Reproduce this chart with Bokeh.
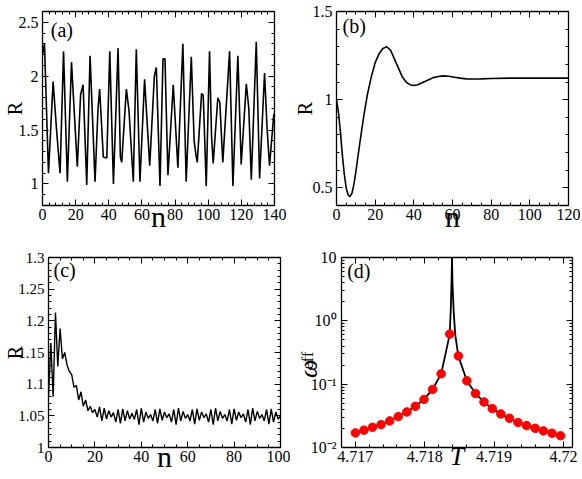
import math
import numpy as np
from bokeh.plotting import figure
from bokeh.layouts import column, row
from bokeh.models import (Range1d, SingleIntervalTicker, FixedTicker, LinearAxis, LogAxis,
                          Label, CustomJSTickFormatter)
from bokeh.embed import file_html
from bokeh.resources import INLINE

FONT = "'Liberation Serif', 'Times New Roman', serif"

# ---------------- data: panel (a) ----------------
a_n = [0, 1.2, 3.6, 6.4, 8.5, 10.6, 12.7, 15, 17.5, 21, 23, 24.5, 26.7, 28.7, 31.7, 33.5, 34.5,
       36.7, 38.8, 40.6, 42.8, 45.6, 47, 47.8, 50.6, 52.2, 54.8, 56.6, 58.8, 61.6, 64.7, 67.5,
       68.7, 70.9, 72.7, 73.9, 75.7, 78.9, 81.7, 84.7, 86.7, 89.8, 91.5, 92.5, 93.4, 96, 97,
       98.8, 100.8, 102, 103, 105.8, 107, 108.8, 112.9, 114.9, 117.9, 119.9, 123, 124.5, 126,
       129, 131, 134, 135.5, 137, 139.6]
a_R = [2.2, 2.3, 1.1, 1.95, 1.5, 1.1, 2.23, 1.02, 2.13, 1.16, 1.83, 1.92, 0.99, 2.19, 1.02, 1.7, 1.88,
       1.25, 1.24, 2.23, 1.0, 2.26, 1.25, 1.2, 1.88, 1.68, 1.02, 2.25, 1.02, 1.97, 1.17, 2.0,
       2.08, 0.98, 2.16, 2.16, 1.08, 1.92, 1.15, 2.3, 1.02, 2.18, 1.4, 1.28, 1.2, 1.84, 1.82,
       0.98, 2.23, 1.45, 1.19, 1.8, 1.76, 1.2, 2.23, 0.98, 2.19, 1.18, 1.93, 1.7, 1.04,
       2.32, 1.05, 2.03, 1.52, 1.17, 1.65]

# ---------------- data: panel (b) ----------------
b_n = [0, 1, 2, 3, 4, 5, 6, 7, 8, 9, 10, 12, 14, 16, 18, 20, 22, 24, 26, 28, 30, 32, 34, 36, 38,
       40, 42, 44, 46, 48, 50, 52, 55, 58, 61, 64, 67, 70, 75, 80, 90, 100, 110, 120]
b_R = [1.0, 0.93, 0.82, 0.69, 0.58, 0.50, 0.46, 0.45, 0.47, 0.52, 0.59, 0.75, 0.90, 1.03, 1.13,
       1.21, 1.26, 1.29, 1.30, 1.28, 1.23, 1.18, 1.13, 1.10, 1.085, 1.08, 1.085, 1.095, 1.105,
       1.115, 1.125, 1.13, 1.135, 1.133, 1.127, 1.122, 1.118, 1.117, 1.118, 1.12, 1.122, 1.122,
       1.122, 1.122]

# ---------------- data: panel (c) ----------------
c_n = list(range(0, 101))
c_R = [1.08, 1.165, 1.08, 1.213, 1.128, 1.188, 1.14, 1.15, 1.13, 1.12, 1.115, 1.095, 1.098, 1.075,
       1.088, 1.065, 1.075, 1.058, 1.065, 1.055, 1.06, 1.048, 1.064, 1.042, 1.062, 1.045, 1.058,
       1.048, 1.055, 1.04, 1.06, 1.038, 1.061, 1.042, 1.058, 1.045, 1.054, 1.044, 1.06, 1.036,
       1.062, 1.04, 1.056, 1.046, 1.052, 1.042, 1.06, 1.038, 1.061, 1.043, 1.056, 1.047, 1.053,
       1.04, 1.06, 1.036, 1.062, 1.042, 1.057, 1.046, 1.052, 1.042, 1.06, 1.037, 1.061, 1.043,
       1.056, 1.047, 1.053, 1.04, 1.06, 1.036, 1.062, 1.042, 1.057, 1.046, 1.052, 1.042, 1.06,
       1.037, 1.061, 1.043, 1.056, 1.047, 1.053, 1.04, 1.06, 1.036, 1.062, 1.042, 1.057, 1.046,
       1.052, 1.042, 1.06, 1.037, 1.061, 1.04, 1.056, 1.045, 1.05]

# ---------------- data: panel (d) ----------------
d_dot_T = [4.717000, 4.717124, 4.717247, 4.717371, 4.717495, 4.717618, 4.717742, 4.717865,
           4.717989, 4.718113, 4.718236, 4.718360, 4.718484, 4.718607, 4.718731, 4.718854,
           4.718973, 4.719097, 4.719221, 4.719344, 4.719468, 4.719592, 4.719710, 4.719834,
           4.719958]
d_dot_w = [0.0170, 0.0188, 0.0209, 0.0230, 0.0263, 0.0308, 0.0364, 0.0447, 0.0575, 0.0826,
           0.1456, 0.618, 0.279, 0.113, 0.0715, 0.0522, 0.0411, 0.0339, 0.0290, 0.0248,
           0.0222, 0.0201, 0.0183, 0.0168, 0.0153]
d_line_T = [4.717000, 4.717124, 4.717247, 4.717371, 4.717495, 4.717618, 4.717742, 4.717865,
            4.717989, 4.718113, 4.718236, 4.718297, 4.718360, 4.718375, 4.718386, 4.718393,
            4.718400, 4.718417, 4.718440, 4.718484, 4.718607, 4.718731, 4.718854, 4.718973,
            4.719097, 4.719221, 4.719344, 4.719468, 4.719592, 4.719710, 4.719834, 4.719958,
            4.720000]
d_line_w = [0.0170, 0.0188, 0.0209, 0.0230, 0.0263, 0.0308, 0.0364, 0.0447, 0.0575, 0.0826,
            0.1456, 0.29, 0.618, 1.5, 4.0, 10.0, 4.0, 1.4, 0.6, 0.279, 0.113, 0.0715, 0.0522,
            0.0411, 0.0339, 0.0290, 0.0248, 0.0222, 0.0201, 0.0183, 0.0168, 0.0153, 0.0148]

# ---------------- ticks ----------------
d_x_major = [4.717, 4.718, 4.719, 4.720]
d_x_minor = [round(4.7168 + 0.0002 * k, 4) for k in range(0, 18)]
d_y_major = [0.01, 0.1, 1, 10]
d_y_minor = [m * 10.0 ** e for e in (-2, -1, 0) for m in range(2, 10)]
d_y_labels = {0.01: "10\u207b\u00b2", 0.1: "10\u207b\u00b9", 1: "10\u2070", 10: "10"}

num_fmt = CustomJSTickFormatter(code="return parseFloat(tick.toFixed(4)).toString();")


def make_fig(w, h, l, r, t, b, xr, yr, y_log=False):
    p = figure(width=w, height=h, x_range=xr, y_range=yr,
               y_axis_type="log" if y_log else "linear",
               output_backend="svg", toolbar_location=None,
               min_border_left=l, min_border_right=r, min_border_top=t, min_border_bottom=b)
    p.xgrid.visible = False
    p.ygrid.visible = False
    p.outline_line_color = "black"
    p.outline_line_width = 1.3
    p.outline_line_alpha = 1.0
    p.background_fill_color = "white"
    p.border_fill_color = "white"
    return p


def style_axis(ax, size="16px", standoff=3):
    ax.major_tick_in = 6
    ax.major_tick_out = 0
    ax.minor_tick_in = 3
    ax.minor_tick_out = 0
    ax.major_tick_line_color = "black"
    ax.minor_tick_line_color = "black"
    ax.major_tick_line_width = 1
    ax.minor_tick_line_width = 1
    ax.axis_line_color = None
    ax.major_label_text_font = FONT
    ax.major_label_text_color = "black"
    ax.major_label_text_font_size = size
    ax.major_label_standoff = standoff
    ax.axis_label_text_font = FONT
    ax.axis_label_text_color = "black"
    ax.axis_label_text_font_style = "normal"


def blank(ax):
    ax.formatter = CustomJSTickFormatter(code="return '';")
    ax.major_label_text_font_size = "1px"
    ax.major_label_standoff = 0


def add_mirror(p, xticker, yticker, y_log=False):
    top = LinearAxis(ticker=xticker)
    style_axis(top)
    blank(top)
    p.add_layout(top, "above")
    right = LogAxis(ticker=yticker) if y_log else LinearAxis(ticker=yticker)
    style_axis(right)
    blank(right)
    p.add_layout(right, "right")


def set_labels(p, xlabel, xsize, xstand, ylabel, ysize, ystand, xstyle="normal"):
    xa = p.below[0]
    ya = p.left[0]
    xa.axis_label = xlabel
    xa.axis_label_text_font_size = xsize
    xa.axis_label_standoff = xstand
    xa.axis_label_text_font_style = xstyle
    ya.axis_label = ylabel
    ya.axis_label_text_font_size = ysize
    ya.axis_label_standoff = ystand


def lab(p, x, y, text, size, align="left"):
    p.add_layout(Label(x=x, y=y, text=text, x_units="data", y_units="data",
                       text_font=FONT, text_font_size=size, text_color="black",
                       text_align=align, text_baseline="middle"))


# ---------------- panel (a) ----------------
pa = make_fig(290, 240, 42, 16, 7, 35, Range1d(0, 140), Range1d(0.8, 2.6))
pa.line(a_n, a_R, line_color="black", line_width=1.6)
pa.xaxis.ticker = SingleIntervalTicker(interval=20, num_minor_ticks=5)
pa.yaxis.ticker = SingleIntervalTicker(interval=0.5, num_minor_ticks=5)
pa.xaxis.formatter = num_fmt
pa.yaxis.formatter = num_fmt
style_axis(pa.xaxis[0]); style_axis(pa.yaxis[0], standoff=4)
set_labels(pa, "n", "30px", -23, "R", "20px", -10)
add_mirror(pa, SingleIntervalTicker(interval=20, num_minor_ticks=5),
           SingleIntervalTicker(interval=0.5, num_minor_ticks=5))
lab(pa, 5, 2.43, "(a)", "20px")

# ---------------- panel (b) ----------------
pb = make_fig(290, 240, 46, 12, 11, 35, Range1d(0, 120), Range1d(0.4, 1.5))
pb.line(b_n, b_R, line_color="black", line_width=1.6)
pb.xaxis.ticker = SingleIntervalTicker(interval=20, num_minor_ticks=4)
pb.yaxis.ticker = SingleIntervalTicker(interval=0.5, num_minor_ticks=5)
pb.xaxis.formatter = num_fmt
pb.yaxis.formatter = num_fmt
style_axis(pb.xaxis[0]); style_axis(pb.yaxis[0], standoff=4)
set_labels(pb, "n", "30px", -23, "R", "20px", -6)
add_mirror(pb, SingleIntervalTicker(interval=20, num_minor_ticks=4),
           SingleIntervalTicker(interval=0.5, num_minor_ticks=5))
lab(pb, 3.1, 1.42, "(b)", "20px")

# ---------------- panel (c) ----------------
pc = make_fig(290, 238, 48, 10, 11, 31, Range1d(0, 100), Range1d(1.0, 1.3))
pc.line(c_n, c_R, line_color="black", line_width=1.4)
pc.xaxis.ticker = SingleIntervalTicker(interval=20, num_minor_ticks=4)
pc.yaxis.ticker = SingleIntervalTicker(interval=0.05, num_minor_ticks=5)
pc.xaxis.formatter = num_fmt
pc.yaxis.formatter = num_fmt
style_axis(pc.xaxis[0]); style_axis(pc.yaxis[0], size="15px", standoff=4)
set_labels(pc, "n", "30px", -25, "R", "20px", -11)
add_mirror(pc, SingleIntervalTicker(interval=20, num_minor_ticks=4),
           SingleIntervalTicker(interval=0.05, num_minor_ticks=5))
lab(pc, 2.15, 1.2807, "(c)", "20px")

# ---------------- panel (d) ----------------
pd_ = make_fig(290, 238, 48, 8, 17, 30, Range1d(4.7168, 4.72013), Range1d(0.01, 10), y_log=True)
pd_.line(d_line_T, d_line_w, line_color="black", line_width=1.8)
pd_.scatter(d_dot_T, d_dot_w, size=8.5, fill_color="#ff0000", line_color="#ff0000")
pd_.xaxis.ticker = FixedTicker(ticks=d_x_major, minor_ticks=d_x_minor)
pd_.yaxis.ticker = FixedTicker(ticks=d_y_major, minor_ticks=d_y_minor)
pd_.xaxis.formatter = num_fmt
pd_.yaxis.major_label_overrides = d_y_labels
style_axis(pd_.xaxis[0]); style_axis(pd_.yaxis[0], standoff=5)
set_labels(pd_, "T", "26px", -23, "    eff", "16px", -8, xstyle="italic")
# outer left axis carrying the omega of the y label
omega_axis = LogAxis(ticker=FixedTicker(ticks=d_y_major, minor_ticks=d_y_minor))
style_axis(omega_axis)
blank(omega_axis)
omega_axis.major_tick_in = 0
omega_axis.minor_tick_in = 0
omega_axis.axis_label = "\u03c9     "
omega_axis.axis_label_text_font_size = "26px"
omega_axis.axis_label_text_font_style = "italic"
omega_axis.axis_label_standoff = -27
pd_.add_layout(omega_axis, "left")
add_mirror(pd_, FixedTicker(ticks=d_x_major, minor_ticks=d_x_minor),
           FixedTicker(ticks=d_y_major, minor_ticks=d_y_minor), y_log=True)
lab(pd_, 4.716882, 6.18, "(d)", "20px")

layout = column(row(pa, pb), row(pc, pd_))

open("out.html", "w", encoding="utf-8").write(file_html(layout, INLINE))
